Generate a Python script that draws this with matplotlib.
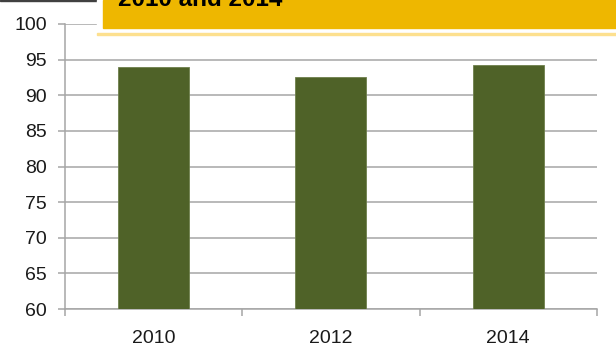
import matplotlib.pyplot as plt
from matplotlib.patches import Rectangle
import numpy as np

years = ['2010', '2012', '2014']
values = [94.0, 92.5, 94.2]
y_ticks = [60, 65, 70, 75, 80, 85, 90, 95, 100]
title_text = '2010 and 2014'

W, H = 616, 358
plt.rcParams['font.family'] = ['Liberation Sans', 'DejaVu Sans']

fig = plt.figure(figsize=(W / 100, H / 100), dpi=100)
ax = fig.add_axes([64.8 / W, 1 - 309 / H, (597 - 64.8) / W, (309 - 24) / H])

x = np.arange(len(years))
ax.bar(x, values, width=0.4, color='#4F6228', edgecolor='#6E7F4C', linewidth=0.6, zorder=3)

ax.set_xlim(-0.5, len(years) - 0.5)
ax.set_ylim(60, 100)
ax.set_yticks(y_ticks)
ax.set_xticks(x)
ax.set_xticklabels(years)
ax.set_xticks(np.arange(len(years) + 1) - 0.5, minor=True)

grid_col = '#A6A6A6'
ax.yaxis.grid(True, color=grid_col, lw=1.1, zorder=0)
for s in ['top', 'right']:
    ax.spines[s].set_visible(False)
for s in ['left', 'bottom']:
    ax.spines[s].set_color(grid_col)
    ax.spines[s].set_linewidth(1.1)

ax.tick_params(axis='y', length=5, width=1.1, color=grid_col, pad=8, labelsize=14, labelcolor='#1a1a1a')
ax.tick_params(axis='x', which='major', length=0, pad=15, labelsize=14, labelcolor='#1a1a1a')
ax.tick_params(axis='x', which='minor', length=5, width=1.1, color=grid_col)

# title banner cut at the top
def fig_rect(x0, y0, x1, y1, **kw):
    fig.patches.append(Rectangle((x0 / W, 1 - y1 / H), (x1 - x0) / W, (y1 - y0) / H,
                                 transform=fig.transFigure, **kw))

fig_rect(0, 0, 97, 1, color='#404040', zorder=10)
fig_rect(97, 0, W, 35, color='white', zorder=10)
fig_rect(97, 33.5, W, 35, color='#FDE08F', zorder=11)
fig_rect(103, 0, W, 28, color='#EEB700', zorder=11)
fig.text(118 / W, 1 - 6 / H, title_text, fontsize=17.5, fontweight='bold',
         color='black', va='baseline', ha='left', zorder=12)

fig.savefig('out.png', dpi=100)
